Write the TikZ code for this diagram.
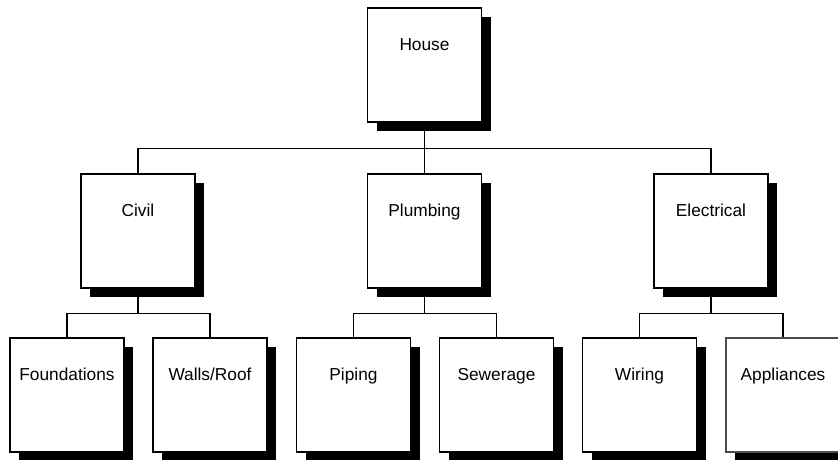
\documentclass[tikz,border=0pt]{standalone}
\usepackage{fontspec}
\setmainfont{Liberation Sans}
\usetikzlibrary{shadows}

\tikzset{
  unit/.style={draw=black, fill=white, line width=1.4pt, minimum width=114pt, minimum height=114pt,
    inner sep=0pt, text height=12.5pt, text depth=41.5pt,
    font=\fontsize{17.3}{20}\selectfont,
    drop shadow={shadow xshift=9pt, shadow yshift=-9pt, opacity=1, fill=black}},
  link/.style={line width=1.4pt}
}

\begin{document}
\begin{tikzpicture}[x=1pt, y=1pt]
  \useasboundingbox (0,0) rectangle (838,-459);
  \clip (0,0) rectangle (838,-459);

  % Top level
  \node[unit] (house) at (424.5,-65) {House};

  % Second level
  \node[unit] (civil) at (138,-231) {Civil};
  \node[unit] (plumbing) at (424.5,-231) {Plumbing};
  \node[unit] (electrical) at (711,-231) {Electrical};

  % Third level
  \node[unit] (found) at (67,-395) {Foundations};
  \node[unit] (walls) at (210,-395) {Walls/Roof};
  \node[unit] (piping) at (353.5,-395) {Piping};
  \node[unit] (sewer) at (496.5,-395) {Sewerage};
  \node[unit] (wiring) at (639.5,-395) {Wiring};
  \node[unit, draw=black!70] (appl) at (783,-395) {Appliances};

  % Connectors
  \draw[link] (house.south) -- ++(0,-26) coordinate (bus);
  \draw[link] (civil.north) |- (bus) -| (electrical.north);
  \draw[link] (plumbing.north) -- (plumbing.north |- bus);
  \foreach \p/\a/\b in {civil/found/walls, plumbing/piping/sewer, electrical/wiring/appl} {
    \draw[link] (\p.south) -- ++(0,-25) coordinate (sub);
    \draw[link] (\a.north) |- (sub) -| (\b.north);
  }
\end{tikzpicture}
\end{document}
